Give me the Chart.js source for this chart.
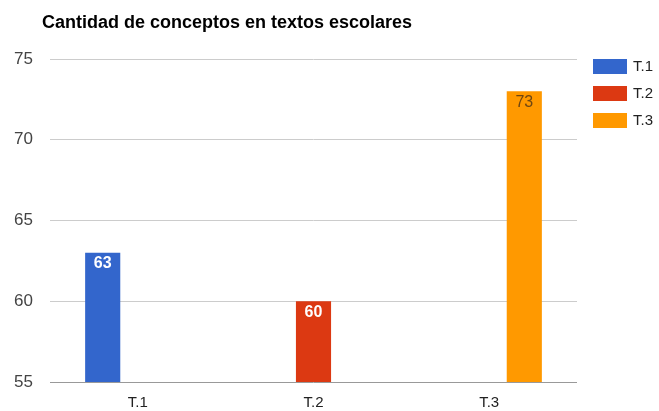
<!DOCTYPE html>
<html>
<head>
<meta charset="utf-8">
<script src="https://cdn.jsdelivr.net/npm/chart.js@4/dist/chart.umd.min.js"></script>
<style>
  body { margin: 0; background: #fff; }
  #wrap { width: 659px; height: 411px; }
</style>
</head>
<body>
<div id="wrap"><canvas id="chart"></canvas></div>
<script>
const titleText = 'Cantidad de conceptos en textos escolares';
const categories = ['T.1', 'T.2', 'T.3'];
const seriesNames = ['T.1', 'T.2', 'T.3'];
const t1Values = [63, null, null];
const t2Values = [null, 60, null];
const t3Values = [null, null, 73];
const yTicks = [55, 60, 65, 70, 75];

const colors = ['#3366cc', '#dc3912', '#ff9900'];
const labelColors = ['#ffffff', '#ffffff', '#6e4612'];
const labelBold = [true, true, false];
const FONT = '"Liberation Sans", Arial, sans-serif';

// title drawn by hand so it can sit left of the plot but not at the canvas edge
const titlePlugin = {
    id: 'leftTitle',
    afterDraw(chart) {
        const c = chart.ctx;
        c.save();
        c.font = 'bold 18px ' + FONT;
        c.fillStyle = '#000';
        c.textBaseline = 'middle';
        c.fillText(titleText, 42, 23);
        c.restore();
    }
};

// legend on the right, lined up with the top gridline
const sideLegend = {
    id: 'sideLegend',
    afterDraw(chart) {
        const c = chart.ctx;
        const x = chart.chartArea.right + 16;
        let y = chart.chartArea.top;
        c.save();
        c.font = '15px ' + FONT;
        c.textBaseline = 'middle';
        chart.data.datasets.forEach(ds => {
            c.fillStyle = ds.backgroundColor;
            c.fillRect(x, y, 34, 15);
            c.fillStyle = '#222';
            c.fillText(ds.label, x + 40, y + 8);
            y += 27;
        });
        c.restore();
    }
};

// value labels inside the top of each bar
const barLabels = {
    id: 'barLabels',
    afterDatasetsDraw(chart) {
        const c = chart.ctx;
        c.save();
        c.textAlign = 'center';
        c.textBaseline = 'middle';
        chart.data.datasets.forEach((ds, i) => {
            const meta = chart.getDatasetMeta(i);
            meta.data.forEach((bar, j) => {
                const v = ds.data[j];
                if (v === null) return;
                c.font = (labelBold[i] ? 'bold ' : '') + '16px ' + FONT;
                c.fillStyle = labelColors[i];
                c.fillText(String(v), bar.x, bar.y + 11);
            });
        });
        c.restore();
    }
};

const seriesValues = [t1Values, t2Values, t3Values];

new Chart(document.getElementById('chart'), {
    type: 'bar',
    data: {
        labels: categories,
        datasets: seriesNames.map((name, i) => ({
            label: name,
            data: seriesValues[i],
            backgroundColor: colors[i],
            borderWidth: 0,
            barPercentage: 1,
            categoryPercentage: 0.6,
            skipNull: false
        }))
    },
    options: {
        responsive: true,
        maintainAspectRatio: false,
        animation: false,
        layout: { padding: { top: 59, left: 0, right: 82, bottom: 0 } },
        plugins: {
            legend: { display: false },
            tooltip: { enabled: false },
            title: { display: false }
        },
        scales: {
            x: {
                grid: { display: false, drawTicks: false },
                border: { display: false },
                afterFit(scale) { scale.height = 29; },
                ticks: {
                    color: '#222',
                    font: { family: FONT, size: 15 },
                    padding: 12
                }
            },
            y: {
                min: yTicks[0],
                max: yTicks[yTicks.length - 1],
                afterBuildTicks(scale) {
                    scale.ticks = yTicks.map(v => ({ value: v }));
                },
                afterFit(scale) { scale.width = 50; },
                grid: {
                    color: ctx => ctx.tick && ctx.tick.value === yTicks[0] ? '#999' : '#ccc',
                    drawTicks: false
                },
                border: { display: false },
                ticks: {
                    color: '#444',
                    font: { family: FONT, size: 17 },
                    padding: 17
                }
            }
        }
    },
    plugins: [titlePlugin, barLabels, sideLegend]
});
</script>
</body>
</html>
